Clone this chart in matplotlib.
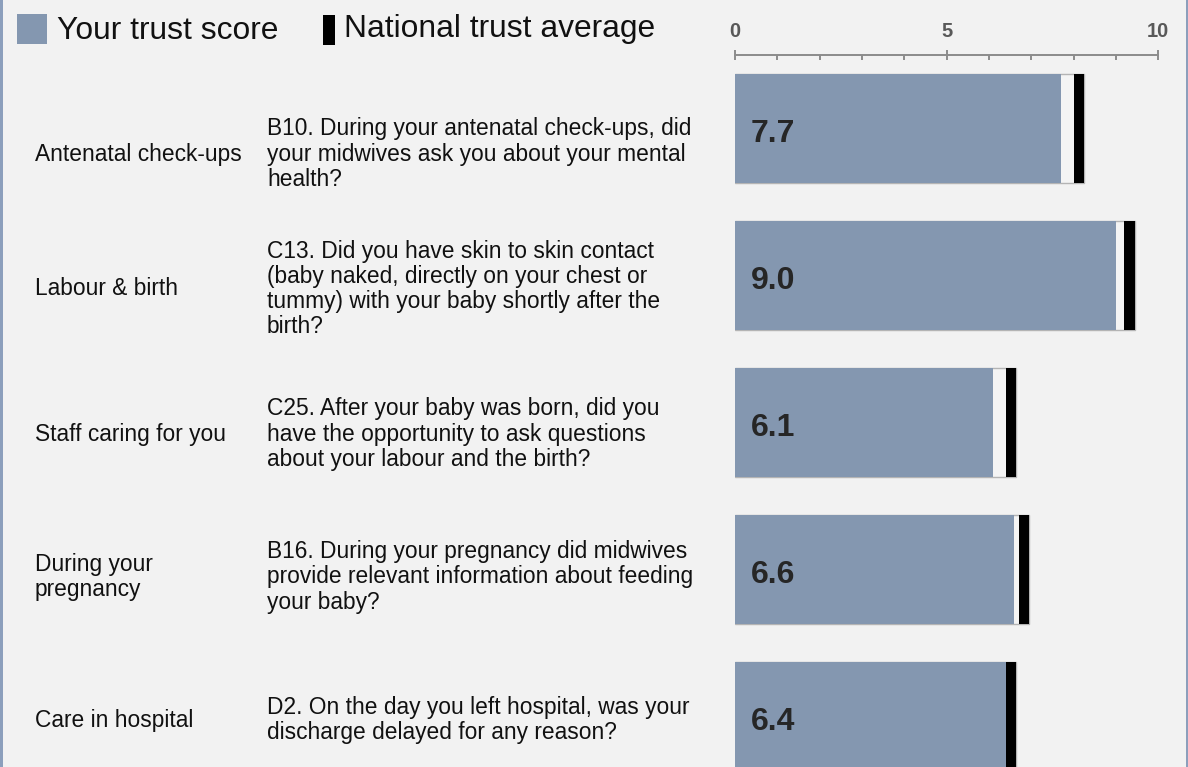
import matplotlib
matplotlib.use("Agg")
import matplotlib.pyplot as plt
from matplotlib.patches import Rectangle
from matplotlib.ticker import MultipleLocator

plt.rcParams['font.family'] = ['Liberation Sans', 'DejaVu Sans']

categories = ["Antenatal check-ups", "Labour & birth", "Staff caring for you",
              "During your\npregnancy", "Care in hospital"]
questions = [
    "B10. During your antenatal check-ups, did\nyour midwives ask you about your mental\nhealth?",
    "C13. Did you have skin to skin contact\n(baby naked, directly on your chest or\ntummy) with your baby shortly after the\nbirth?",
    "C25. After your baby was born, did you\nhave the opportunity to ask questions\nabout your labour and the birth?",
    "B16. During your pregnancy did midwives\nprovide relevant information about feeding\nyour baby?",
    "D2. On the day you left hospital, was your\ndischarge delayed for any reason?",
]
trust_scores = [7.7, 9.0, 6.1, 6.6, 6.4]
national_avg = [8.0, 9.2, 6.4, 6.7, 6.4]
xticks_major = [0, 5, 10]

W, H = 1188, 767
BG = "#f2f2f2"
BLUE = "#8497b0"

fig = plt.figure(figsize=(W / 100, H / 100), dpi=100, facecolor=BG)

def fx(x):
    return x / W

def fy(y):
    return 1 - y / H

# borders
fig.patches.append(Rectangle((0, 0), 3 / W, 1, transform=fig.transFigure,
                             facecolor="#8c9fbc", edgecolor="none"))
fig.patches.append(Rectangle((1 - 2.5 / W, 0), 2.5 / W, 1, transform=fig.transFigure,
                             facecolor="#8c9fbc", edgecolor="none"))

# axes: x 0..10 from px 735 to 1158.3, full height
x0, x1 = 735, 1158.3
ax = fig.add_axes([fx(x0), 0, (x1 - x0) / W, 1])
ax.set_facecolor("none")
row0, rowstep = 128.8, 147.0
ax.set_xlim(0, 10)
ax.set_ylim((H - row0) / rowstep, -row0 / rowstep)

bar_h = 109 / rowstep
mark_w = 0.25
n = len(trust_scores)
for i in range(n):
    # background box up to national average marker end
    ax.barh(i, national_avg[i] + mark_w, height=bar_h, color="#f4f4f4",
            edgecolor="#b4b4b4", linewidth=1.0, zorder=1)
    ax.barh(i, trust_scores[i], height=bar_h, color=BLUE, edgecolor="none", zorder=2)
    ax.barh(i, mark_w, left=national_avg[i], height=bar_h, color="black",
            edgecolor="none", zorder=3)
    ax.text(0.38, i + 5 / rowstep, f"{trust_scores[i]:.1f}", ha="left", va="center",
            fontsize=23, fontweight="bold", color="#262626", zorder=4)

# top axis line
for s in ["left", "right", "bottom"]:
    ax.spines[s].set_visible(False)
axis_y = (55 - row0) / rowstep
ax.spines["top"].set_position(("data", axis_y))
ax.spines["top"].set_color("#8c8c8c")
ax.spines["top"].set_linewidth(1.4)
ax.yaxis.set_visible(False)
ax.xaxis.set_ticks_position("top")
ax.xaxis.set_label_position("top")
ax.set_xticks(xticks_major)
ax.xaxis.set_minor_locator(MultipleLocator(1))
ax.tick_params(axis="x", which="major", direction="inout", length=7.5, width=1.4,
               color="#8c8c8c", labelsize=14.5, labelcolor="#595959", pad=6)
ax.tick_params(axis="x", which="minor", direction="in", length=3.8, width=1.4,
               color="#8c8c8c")
for lab in ax.get_xticklabels():
    lab.set_fontweight("bold")

# row texts
text_y = [154, 289, 434, 577, 720]
for i in range(n):
    fig.text(fx(35), fy(text_y[i]), categories[i], ha="left", va="center",
             fontsize=16.4, color="#111111", linespacing=1.12)
    fig.text(fx(267), fy(text_y[i]), questions[i], ha="left", va="center",
             fontsize=16.4, color="#111111", linespacing=1.12)

# legend
fig.patches.append(Rectangle((fx(17), fy(44)), 30 / W, 30 / H, transform=fig.transFigure,
                             facecolor=BLUE, edgecolor="none"))
fig.text(fx(57), fy(31), "Your trust score", ha="left", va="center",
         fontsize=22.9, color="#111111")
fig.patches.append(Rectangle((fx(323), fy(45)), 12 / W, 30 / H, transform=fig.transFigure,
                             facecolor="black", edgecolor="none"))
fig.text(fx(344), fy(29), "National trust average", ha="left", va="center",
         fontsize=22.9, color="#111111")

fig.savefig("out.png", dpi=100, facecolor=BG)
